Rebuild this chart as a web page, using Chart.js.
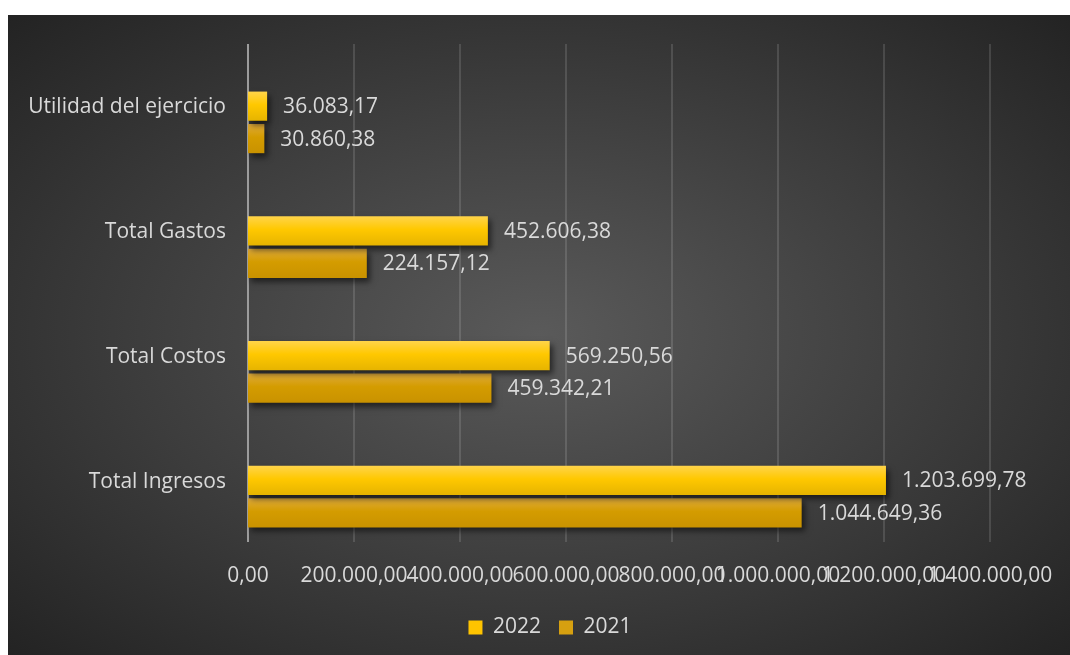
<!DOCTYPE html>
<html>
<head>
<meta charset="utf-8">
<script src="https://cdn.jsdelivr.net/npm/chart.js@4"></script>
<style>
  html, body { margin: 0; padding: 0; background: #fff; }
  #wrap {
    position: absolute; left: 8px; top: 15px; width: 1062px; height: 640px;
    background: radial-gradient(ellipse farthest-corner at 50% 50%, #5a5a5a 0%, #3c3c3c 55%, #232323 100%);
  }
</style>
</head>
<body>
<div id="wrap"><canvas id="chart"></canvas></div>
<script>
// Chart data
const categories = ['Utilidad del ejercicio', 'Total Gastos', 'Total Costos', 'Total Ingresos'];
const values2022 = [36083.17, 452606.38, 569250.56, 1203699.78];
const values2021 = [30860.38, 224157.12, 459342.21, 1044649.36];
const seriesNames = ['2022', '2021'];

const FONT = "'Open Sans', 'Noto Sans', sans-serif";
const TEXT = '#d9d9d9';

// 1234567.8 -> "1.234.567,80"
const fmt = (v) => {
  let [i, d] = Number(v).toFixed(2).split('.');
  i = i.replace(/\B(?=(\d{3})+(?!\d))/g, '.');
  return i + ',' + d;
};

// vertical gradient for each bar, built from the element once it has a position
const barFill = (stops) => (c) => {
  const el = c.element;
  if (c.type !== 'data' || !el || el.y === undefined || !el.height) return stops[1];
  const g = c.chart.ctx.createLinearGradient(0, el.y - el.height / 2, 0, el.y + el.height / 2);
  g.addColorStop(0, stops[0]);
  g.addColorStop(0.45, stops[1]);
  g.addColorStop(1, stops[2]);
  return g;
};
const solid = ['#ffc400', '#d6a010'];

// vertical gridlines: in the original they sit a bit higher than the category band
const gridLines = {
  id: 'gridLines',
  beforeDatasetsDraw(chart) {
    const { ctx, chartArea: a, scales: { x } } = chart;
    ctx.save();
    ctx.lineWidth = 2;
    x.ticks.forEach((t) => {
      const px = Math.round(x.getPixelForValue(t.value));
      ctx.strokeStyle = t.value === 0 ? '#9c9c9c' : 'rgba(255,255,255,0.13)';
      ctx.beginPath();
      ctx.moveTo(px, a.top - 16);
      ctx.lineTo(px, a.bottom - 17);
      ctx.stroke();
    });
    ctx.restore();
  },
  // let the long category names use the left padding too
  afterLayout(chart) {
    chart.scales.y.left = 0;
  }
};

// drop shadow under the bars
const shadowPlugin = {
  id: 'barShadow',
  beforeDatasetsDraw(chart) {
    const ctx = chart.ctx;
    ctx.save();
    ctx.shadowColor = 'rgba(0,0,0,0.55)';
    ctx.shadowBlur = 6;
    ctx.shadowOffsetX = 3;
    ctx.shadowOffsetY = 4;
  },
  afterDatasetsDraw(chart) {
    chart.ctx.restore();
  }
};

// value labels at the end of each bar
const valueLabels = {
  id: 'valueLabels',
  afterDraw(chart) {
    const ctx = chart.ctx;
    ctx.save();
    ctx.font = '21px ' + FONT;
    ctx.fillStyle = TEXT;
    ctx.textAlign = 'left';
    ctx.textBaseline = 'middle';
    chart.data.datasets.forEach((ds, di) => {
      chart.getDatasetMeta(di).data.forEach((el, i) => {
        ctx.fillText(fmt(ds.data[i]), el.x + 16, el.y + 1);
      });
    });
    ctx.restore();
  }
};

const ctx = document.getElementById('chart').getContext('2d');
const chart = new Chart(ctx, {
  type: 'bar',
  data: {
    labels: categories,
    datasets: [
      {
        label: seriesNames[0],
        data: values2022,
        backgroundColor: barFill(['#ffd44a', '#ffc800', '#e6b400']),
        barPercentage: 0.9,
        categoryPercentage: 0.52,
      },
      {
        label: seriesNames[1],
        data: values2021,
        backgroundColor: barFill(['#deaa3c', '#d49c00', '#c99200']),
        barPercentage: 0.9,
        categoryPercentage: 0.52,
      },
    ],
  },
  options: {
    indexAxis: 'y',
    responsive: true,
    maintainAspectRatio: false,
    animation: false,
    layout: { padding: { top: 45, right: 80, left: 102, bottom: 7 } },
    plugins: {
      tooltip: { enabled: false },
      legend: {
        position: 'bottom',
        labels: {
          color: TEXT,
          font: { family: FONT, size: 21 },
          boxWidth: 14,
          boxHeight: 14,
          padding: 18,
          generateLabels: (ch) => Chart.defaults.plugins.legend.labels.generateLabels(ch).map((l, i) => {
            l.fillStyle = solid[i];
            l.strokeStyle = solid[i];
            l.lineWidth = 0;
            return l;
          }),
        },
      },
    },
    scales: {
      x: {
        min: 0,
        max: 1400000,
        grid: { display: false, drawTicks: false },
        border: { display: false },
        ticks: {
          stepSize: 200000,
          autoSkip: false,
          maxRotation: 0,
          color: TEXT,
          padding: 4,
          font: { family: FONT, size: 21 },
          callback: (v) => fmt(v),
        },
        afterFit: (s) => { s.height = 40; },
      },
      y: {
        grid: { display: false, drawTicks: false },
        border: { display: false },
        ticks: {
          color: TEXT,
          padding: 22,
          labelOffset: -15,
          font: { family: FONT, size: 21 },
        },
        afterFit: (s) => { s.width = 138; },
      },
    },
  },
  plugins: [gridLines, shadowPlugin, valueLabels],
});

// second pass so the bar gradients can use the element positions
chart.update('none');
</script>
</body>
</html>
